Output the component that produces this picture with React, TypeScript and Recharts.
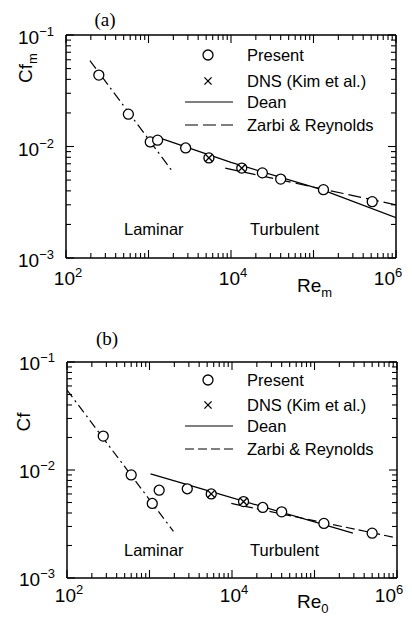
import React from 'react';
import { ComposedChart, Line, Scatter, XAxis, YAxis, Legend, Customized } from 'recharts';

// (a) mean-velocity Reynolds number vs Cf_m
const presentReA = [250, 570, 1050, 1290, 2820, 5400, 13500, 24000, 40000, 132000, 515000];
const presentCfA = [0.0437, 0.0195, 0.011, 0.0114, 0.0097, 0.0079, 0.0064, 0.0058, 0.0051, 0.0041, 0.0032];
const dnsReA = [5400, 13500];
const dnsCfA = [0.0079, 0.0064];
const laminarReA = [195, 1980];
const laminarCfA = [0.059, 0.0059];
const deanReA = [1250, 10000, 126000, 1000000];
const deanCfA = [0.0122, 0.0072, 0.0041, 0.0023];
const zarbiReA = [8500, 1000000];
const zarbiCfA = [0.0064, 0.003];

// (b) centreline Reynolds number vs Cf
const presentReB = [275, 600, 1080, 1310, 2870, 5600, 13800, 23600, 40000, 130000, 500000];
const presentCfB = [0.0206, 0.009, 0.0049, 0.0065, 0.0067, 0.006, 0.0051, 0.0045, 0.0041, 0.0032, 0.0026];
const dnsReB = [5600, 13800];
const dnsCfB = [0.006, 0.0051];
const laminarReB = [100, 1950];
const laminarCfB = [0.055, 0.0027];
const deanReB = [1030, 5600, 292000];
const deanCfB = [0.0092, 0.0063, 0.0026];
const zarbiReB = [9800, 1000000];
const zarbiCfB = [0.0049, 0.00235];

// axes
const xDecades = [1e2, 1e3, 1e4, 1e5, 1e6];
const yDecades = [1e-3, 1e-2, 1e-1];
const minorSteps = [2, 3, 4, 5, 6, 7, 8, 9];
const xLabelExps = [2, 4, 6];
const yLabelExps = [-3, -2, -1];
const legendLabels = ['Present', 'DNS (Kim et al.)', 'Dean', 'Zarbi & Reynolds'];
const regimeLabels = ['Laminar', 'Turbulent'];

const SANS = "'Liberation Sans', Arial, Helvetica, sans-serif";
const SERIF = "'Liberation Serif', 'Times New Roman', serif";

const pairs = (re: number[], cf: number[]) => re.map((r, i) => ({ re: r, cf: cf[i] }));

const logTicks = (decades: number[]) => {
  const top = decades[decades.length - 1];
  const out: number[] = [];
  decades.forEach((d) => {
    out.push(d);
    if (d < top) minorSteps.forEach((m) => out.push(m * d));
  });
  return out;
};

const xTicks = logTicks(xDecades);
const yTicks = logTicks(yDecades);

const exponent = (v: number) => Math.round(Math.log10(v));
const isDecade = (v: number) => Math.abs(Math.log10(v) - exponent(v)) < 1e-6;
const sup = (e: number) => (e < 0 ? '\u2212' + Math.abs(e) : String(e));

const MAJOR = 8;
const MINOR = 5;

// ticks point into the frame; labels only on selected decades
const BottomTick = (p: any) => {
  const v = p.payload.value;
  const e = exponent(v);
  const len = isDecade(v) ? MAJOR : MINOR;
  const showLabel = isDecade(v) && xLabelExps.includes(e);
  const dx = v === xDecades[xDecades.length - 1] ? -8 : 2;
  return (
    <g>
      <line x1={p.x} x2={p.x} y1={p.y} y2={p.y - len} stroke="#000" strokeWidth={1.1} />
      {showLabel && (
        <text x={p.x + dx} y={p.y + p.labelDy} textAnchor="middle" fontFamily={SANS} fontSize={19} fill="#000">
          10<tspan dy={-8} fontSize={13}>{sup(e)}</tspan>
        </text>
      )}
    </g>
  );
};

const TopTick = (p: any) => {
  const len = isDecade(p.payload.value) ? MAJOR : MINOR;
  return <line x1={p.x} x2={p.x} y1={p.y} y2={p.y + len} stroke="#000" strokeWidth={1.1} />;
};

const LeftTick = (p: any) => {
  const v = p.payload.value;
  const e = exponent(v);
  const len = isDecade(v) ? MAJOR : MINOR;
  const showLabel = isDecade(v) && yLabelExps.includes(e);
  return (
    <g>
      <line x1={p.x} x2={p.x + len} y1={p.y} y2={p.y} stroke="#000" strokeWidth={1.1} />
      {showLabel && (
        <text x={p.x - 12} y={p.y + p.labelDy} textAnchor="end" fontFamily={SANS} fontSize={19} fill="#000">
          10<tspan dy={-8} fontSize={13}>{sup(e)}</tspan>
        </text>
      )}
    </g>
  );
};

const RightTick = (p: any) => {
  const len = isDecade(p.payload.value) ? MAJOR : MINOR;
  return <line x1={p.x} x2={p.x - len} y1={p.y} y2={p.y} stroke="#000" strokeWidth={1.1} />;
};

const OpenCircle = (p: any) => (
  <circle cx={p.cx} cy={p.cy} r={5} fill="#fff" stroke="#000" strokeWidth={1.3} />
);

const Cross = (p: any) => {
  const s = 3.6;
  return (
    <g stroke="#000" strokeWidth={1.3}>
      <line x1={p.cx - s} y1={p.cy - s} x2={p.cx + s} y2={p.cy + s} />
      <line x1={p.cx - s} y1={p.cy + s} x2={p.cx + s} y2={p.cy - s} />
    </g>
  );
};

const LegendBox = ({ rows, dash }: { rows: number[]; dash: string }) => (
  <svg width={240} height={100} style={{ display: 'block' }}>
    <circle cx={28} cy={rows[0]} r={5} fill="#fff" stroke="#000" strokeWidth={1.3} />
    <g stroke="#000" strokeWidth={1.3}>
      <line x1={24.4} y1={rows[1] - 3.6} x2={31.6} y2={rows[1] + 3.6} />
      <line x1={24.4} y1={rows[1] + 3.6} x2={31.6} y2={rows[1] - 3.6} />
    </g>
    <line x1={5} x2={53} y1={rows[2]} y2={rows[2]} stroke="#000" strokeWidth={1.2} />
    <line x1={5} x2={53} y1={rows[3]} y2={rows[3]} stroke="#000" strokeWidth={1.2} strokeDasharray={dash} />
    {legendLabels.map((t, i) => (
      <text key={t} x={67} y={rows[i] + 6} fontFamily={SANS} fontSize={16.5} fill="#000">
        {t}
      </text>
    ))}
  </svg>
);

interface PanelProps {
  top: number;
  height: number;
  margin: { top: number; right: number; bottom: number; left: number };
  tag: string;
  tagPos: [number, number];
  yTitle: string;
  ySub: string;
  yTitlePos: [number, number];
  xSub: string;
  xTitlePos: [number, number];
  xLabelDy: number;
  yLabelDy: number;
  regimeY: number;
  legendTop: number;
  legendRows: number[];
  dash: string;
  laminarDash: string;
  present: { re: number; cf: number }[];
  dns: { re: number; cf: number }[];
  laminar: { re: number; cf: number }[];
  dean: { re: number; cf: number }[];
  zarbi: { re: number; cf: number }[];
}

function Panel(props: PanelProps) {
  const { margin } = props;
  const axisLine = { stroke: '#000', strokeWidth: 1.5 };
  const xDomain = [xDecades[0], xDecades[xDecades.length - 1]];
  const yDomain = [yDecades[0], yDecades[yDecades.length - 1]];

  const Annotations = () => (
    <g fill="#000">
      <text x={props.tagPos[0]} y={props.tagPos[1]} textAnchor="middle" fontFamily={SERIF} fontSize={19}>
        {props.tag}
      </text>
      <text
        transform={`translate(${props.yTitlePos[0]},${props.yTitlePos[1]}) rotate(-90)`}
        textAnchor="middle"
        fontFamily={SANS}
        fontSize={19}
      >
        {props.yTitle}
        {props.ySub && (
          <tspan dy={5} fontSize={13}>
            {props.ySub}
          </tspan>
        )}
      </text>
      <text x={props.xTitlePos[0]} y={props.xTitlePos[1]} fontFamily={SANS} fontSize={19}>
        Re<tspan dy={5} fontSize={13}>{props.xSub}</tspan>
      </text>
      <text x={124} y={props.regimeY} fontFamily={SANS} fontSize={16.5}>
        {regimeLabels[0]}
      </text>
      <text x={250} y={props.regimeY} fontFamily={SANS} fontSize={16.5}>
        {regimeLabels[1]}
      </text>
    </g>
  );

  // each axis is 1px thick so the frame sits exactly on the margins
  return (
    <div style={{ position: 'absolute', left: 0, top: props.top }}>
      <ComposedChart
        width={412}
        height={props.height}
        margin={{ top: margin.top - 1, right: margin.right - 1, bottom: margin.bottom - 1, left: margin.left - 1 }}
      >
        <XAxis
          dataKey="re"
          type="number"
          scale="log"
          domain={xDomain}
          allowDataOverflow
          ticks={xTicks}
          interval={0}
          height={1}
          tickSize={0}
          tickMargin={0}
          tickLine={false}
          axisLine={axisLine}
          tick={(p: any) => <BottomTick {...p} labelDy={props.xLabelDy} />}
        />
        <XAxis
          xAxisId="top"
          orientation="top"
          dataKey="re"
          type="number"
          scale="log"
          domain={xDomain}
          allowDataOverflow
          ticks={xTicks}
          interval={0}
          height={1}
          tickSize={0}
          tickMargin={0}
          tickLine={false}
          axisLine={axisLine}
          tick={(p: any) => <TopTick {...p} />}
        />
        <YAxis
          type="number"
          scale="log"
          domain={yDomain}
          allowDataOverflow
          ticks={yTicks}
          interval={0}
          width={1}
          tickSize={0}
          tickMargin={0}
          tickLine={false}
          axisLine={axisLine}
          tick={(p: any) => <LeftTick {...p} labelDy={props.yLabelDy} />}
        />
        <YAxis
          yAxisId="right"
          orientation="right"
          type="number"
          scale="log"
          domain={yDomain}
          allowDataOverflow
          ticks={yTicks}
          interval={0}
          width={1}
          tickSize={0}
          tickMargin={0}
          tickLine={false}
          axisLine={axisLine}
          tick={(p: any) => <RightTick {...p} />}
        />
        <Line
          data={props.laminar}
          dataKey="cf"
          type="linear"
          stroke="#000"
          strokeWidth={1.2}
          strokeDasharray={props.laminarDash}
          dot={false}
          activeDot={false}
          isAnimationActive={false}
        />
        <Line
          data={props.dean}
          dataKey="cf"
          type="linear"
          stroke="#000"
          strokeWidth={1.2}
          dot={false}
          activeDot={false}
          isAnimationActive={false}
        />
        <Line
          data={props.zarbi}
          dataKey="cf"
          type="linear"
          stroke="#000"
          strokeWidth={1.2}
          strokeDasharray={props.dash}
          dot={false}
          activeDot={false}
          isAnimationActive={false}
        />
        <Scatter data={props.present} dataKey="cf" shape={OpenCircle} isAnimationActive={false} />
        <Scatter data={props.dns} dataKey="cf" shape={Cross} isAnimationActive={false} />
        <Legend
          layout="vertical"
          align="center"
          verticalAlign="middle"
          wrapperStyle={{ left: 180, top: props.legendTop, width: 240, height: 100 }}
          content={() => <LegendBox rows={props.legendRows} dash={props.dash} />}
        />
        <Customized component={Annotations} />
      </ComposedChart>
    </div>
  );
}

export default function App() {
  return (
    <div style={{ position: 'absolute', left: 0, top: 0, width: 412, height: 617, background: '#fff' }}>
      <Panel
        top={0}
        height={300}
        margin={{ top: 35, right: 16, bottom: 42, left: 66 }}
        tag="(a)"
        tagPos={[105, 26]}
        yTitle="Cf"
        ySub="m"
        yTitlePos={[32, 68]}
        xSub="m"
        xTitlePos={[297, 292]}
        xLabelDy={27}
        yLabelDy={9}
        regimeY={235}
        legendTop={42}
        legendRows={[13, 39, 60, 83]}
        dash="13 5"
        laminarDash="10 4 2 4"
        present={pairs(presentReA, presentCfA)}
        dns={pairs(dnsReA, dnsCfA)}
        laminar={pairs(laminarReA, laminarCfA)}
        dean={pairs(deanReA, deanCfA)}
        zarbi={pairs(zarbiReA, zarbiCfA)}
      />
      <Panel
        top={310}
        height={307}
        margin={{ top: 52, right: 15, bottom: 39, left: 67 }}
        tag="(b)"
        tagPos={[107, 35]}
        yTitle="Cf"
        ySub=""
        yTitlePos={[30, 112]}
        xSub="0"
        xTitlePos={[297, 298]}
        xLabelDy={24}
        yLabelDy={8}
        regimeY={246}
        legendTop={57}
        legendRows={[13, 38, 59, 82]}
        dash="9 4"
        laminarDash="9 4 2 4"
        present={pairs(presentReB, presentCfB)}
        dns={pairs(dnsReB, dnsCfB)}
        laminar={pairs(laminarReB, laminarCfB)}
        dean={pairs(deanReB, deanCfB)}
        zarbi={pairs(zarbiReB, zarbiCfB)}
      />
    </div>
  );
}
